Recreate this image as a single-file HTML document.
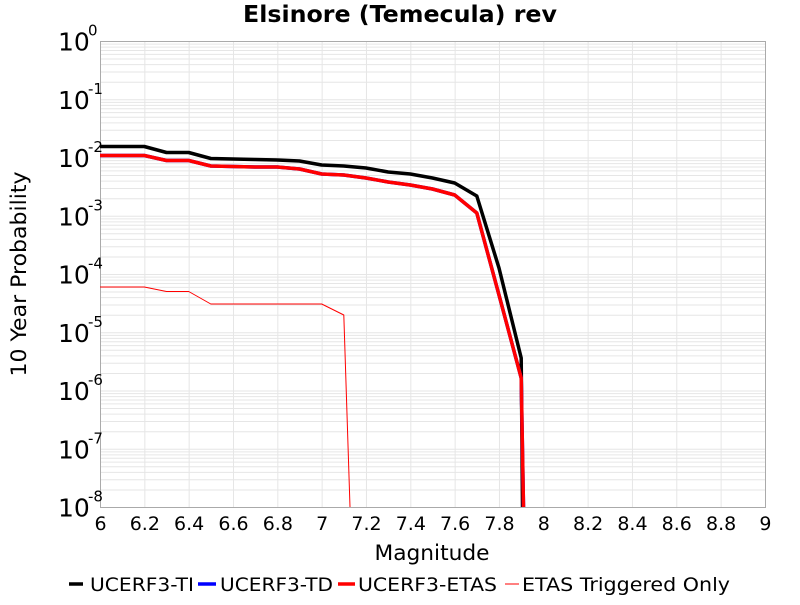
<!DOCTYPE html><html><head><meta charset="utf-8"><style>body{margin:0;background:#fff}svg{font-family:"DejaVu Sans","Liberation Sans",sans-serif}</style></head><body>
<svg width="800" height="600" viewBox="0 0 800 600" xmlns="http://www.w3.org/2000/svg">
<rect width="800" height="600" fill="#fff"/>
<text x="400" y="22" text-anchor="middle" font-size="23" font-weight="bold" textLength="314" lengthAdjust="spacingAndGlyphs">Elsinore (Temecula) rev</text>
<g id="grid" stroke="#e6e6e6" stroke-width="1"></g>
<rect x="100.5" y="41.5" width="665" height="466" fill="none" stroke="#aaa"/>
<g id="lbl"></g>
<g fill="none" stroke-linejoin="round">
<polyline stroke="#000" stroke-width="3.5" points="100,146.5 144.3,146.5 166.5,152.5 188.7,152.5 210.8,158.5 233,159 255.2,159.5 277.3,160 299.5,161 321.7,165 343.8,166 366,168 388.2,172 410.3,174 432.5,178 454.7,183 476.8,196 499,268 521.2,358 522.5,507"/>
<polyline stroke="#00f" stroke-width="3.5" points="100,155.5 144.3,155.5 166.5,160.5 188.7,160.5 210.8,166 233,166.5 255.2,167 277.3,167 299.5,169 321.7,174 343.8,175 366,178 388.2,182 410.3,185 432.5,189 454.7,195 476.8,213 499,295 521.2,378 523.5,507"/>
<polyline stroke="#f00" stroke-width="3.5" points="100,155.5 144.3,155.5 166.5,160.5 188.7,160.5 210.8,166 233,166.5 255.2,167 277.3,167 299.5,169 321.7,174 343.8,175 366,178 388.2,182 410.3,185 432.5,189 454.7,195 476.8,213 499,295 521.2,378 523.5,507"/>
<polyline stroke="#f00" stroke-width="1" points="100,287 144.3,287 166.5,291.5 188.7,291.5 210.8,304 321.7,304 343.8,315 350,507"/>
</g>
<text x="432" y="560" text-anchor="middle" font-size="21" textLength="115" lengthAdjust="spacingAndGlyphs">Magnitude</text>
<text transform="translate(26,274) rotate(-90)" text-anchor="middle" font-size="21" textLength="205" lengthAdjust="spacingAndGlyphs">10 Year Probability</text>
<g font-size="19">
<line x1="69" y1="584" x2="83" y2="584" stroke="#000" stroke-width="3.5"/><text x="90" y="591" textLength="104" lengthAdjust="spacingAndGlyphs">UCERF3-TI</text>
<line x1="198" y1="584" x2="216" y2="584" stroke="#00f" stroke-width="3.5"/><text x="220" y="591" textLength="113" lengthAdjust="spacingAndGlyphs">UCERF3-TD</text>
<line x1="338" y1="584" x2="355" y2="584" stroke="#f00" stroke-width="3.5"/><text x="358" y="591" textLength="139" lengthAdjust="spacingAndGlyphs">UCERF3-ETAS</text>
<line x1="505" y1="584" x2="519" y2="584" stroke="#f00" stroke-width="1"/><text x="522" y="591" textLength="208" lengthAdjust="spacingAndGlyphs">ETAS Triggered Only</text>
</g>
</svg>
<script>
var g=document.getElementById('grid'),L=document.getElementById('lbl'),ns='http://www.w3.org/2000/svg';
function ln(x1,y1,x2,y2){var l=document.createElementNS(ns,'line');l.setAttribute('x1',x1);l.setAttribute('y1',y1);l.setAttribute('x2',x2);l.setAttribute('y2',y2);g.appendChild(l);}
var d=58.25;
for(var n=0;n<8;n++){for(var k=1;k<10;k++){var y=41.5+d*n+d*(1-Math.log10(k));if(k==1)y=41.5+d*(n+1);ln(100.5,y,765.5,y);}}
for(var i=1;i<15;i++){var x=100.5+i*44.33;ln(x,41.5,x,507.5);}
for(var i=0;i<=15;i++){var t=document.createElementNS(ns,'text');t.setAttribute('x',100.5+i*44.33);t.setAttribute('y',530);t.setAttribute('text-anchor','middle');t.setAttribute('font-size','19');var v=6+i*0.2;t.textContent=(Math.round(v*10)/10).toString();L.appendChild(t);}
for(var n=0;n<=8;n++){var y=41.5+d*n;var t=document.createElementNS(ns,'text');t.setAttribute('x',58);t.setAttribute('y',y+9);t.setAttribute('font-size','25');t.textContent='10';L.appendChild(t);var s=document.createElementNS(ns,'text');s.setAttribute('x',88);s.setAttribute('y',y-6);s.setAttribute('font-size','15');s.textContent=n==0?'0':'-'+n;L.appendChild(s);}
</script>
</body></html>
